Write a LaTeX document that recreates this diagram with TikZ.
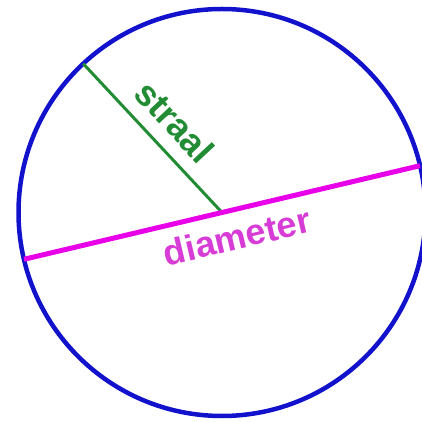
\documentclass[tikz,border=0pt]{standalone}
\usepackage{fontspec}
\setmainfont{Liberation Sans}
\definecolor{cirkelblauw}{RGB}{18,18,205}
\definecolor{straalgroen}{RGB}{34,140,52}
\definecolor{diamroze}{RGB}{232,0,232}
\definecolor{diamtekst}{RGB}{215,60,215}
\tikzset{
  labeltekst/.style={font=\fontsize{36}{40}\selectfont\bfseries,inner sep=0pt}
}
\begin{document}
\begin{tikzpicture}[x=1pt,y=1pt]
            \useasboundingbox (0,0) rectangle (422,422);
            \coordinate (M) at (222,209.5);
            \coordinate (R) at ([shift={(133:203.5)}]M);
            \coordinate (DL) at ([shift={(193.3:203.5)}]M);
            \coordinate (DR) at ([shift={(13.3:203.5)}]M);
            \draw[cirkelblauw,line width=4.5pt](M)circle(203.5);
            \draw[straalgroen,line width=3pt](R)--(M);
            \draw[diamroze,line width=5pt](DL)--(DR);
            \node[labeltekst,text=straalgroen,rotate=-47] (straal) at ([shift={(-47,91)}]M){straal};
            \node[labeltekst,text=diamtekst,rotate=13.3] (diameter) at ([shift={(15,-24)}]M){diameter};
            \end{tikzpicture}
\end{document}
